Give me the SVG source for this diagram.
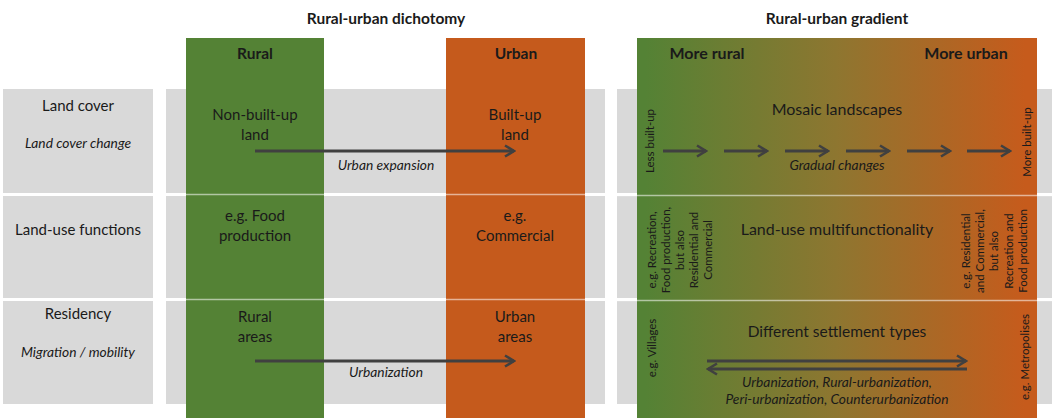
<svg xmlns="http://www.w3.org/2000/svg" width="1052" height="418" viewBox="0 0 1052 418">
<defs>
<linearGradient id="grad" x1="0" y1="0" x2="1" y2="0">
<stop offset="0.02" stop-color="#548235"/>
<stop offset="0.5" stop-color="#8E7630"/>
<stop offset="0.97" stop-color="#C65B1C"/>
</linearGradient>
<marker id="ah" markerUnits="userSpaceOnUse" markerWidth="14" markerHeight="14" viewBox="-12 -7 14 14" refX="0" refY="0" orient="auto">
<path d="M-9,-5.5 L0,0 L-9,5.5" fill="none" stroke="#404040" stroke-width="2.6"/>
</marker>
<style>
.row{fill:#D9D9D9}
.sep{stroke:#ffffff;stroke-opacity:0.55;stroke-width:1.6}
.t{font-family:Lato,"Liberation Sans",sans-serif;fill:#1a1a1a;text-anchor:middle}
.h{font-size:15.5px;font-weight:bold}
.lbl{font-size:15px}
.it{font-size:13.8px;font-style:italic}
.v{font-size:11.5px}
.arr{stroke:#404040;stroke-width:2.8;fill:none;marker-end:url(#ah)}
</style>
</defs>
<rect width="1052" height="418" fill="#ffffff"/>

<g id="row-labels">
<rect class="row" x="3" y="89" width="150" height="104"/>
<rect class="row" x="3" y="196" width="150" height="102"/>
<rect class="row" x="3" y="301" width="150" height="103"/>
<text class="t lbl" x="78" y="111">Land cover</text>
<text class="t it" x="78" y="148">Land cover change</text>
<text class="t lbl" x="78" y="235">Land-use functions</text>
<text class="t lbl" x="78" y="319">Residency</text>
<text class="t it" x="78" y="357">Migration / mobility</text>
</g>

<g id="dichotomy-panel">
<rect class="row" x="166" y="89" width="439" height="104"/>
<rect class="row" x="166" y="196" width="439" height="102"/>
<rect class="row" x="166" y="301" width="439" height="103"/>
<text class="t h" x="386" y="24">Rural-urban dichotomy</text>
</g>

<g id="rural-column">
<rect x="186" y="38" width="138" height="380" fill="#548235"/>
<text class="t h" x="255" y="59">Rural</text>
<text class="t lbl" x="255" y="120">Non-built-up</text>
<text class="t lbl" x="255" y="140">land</text>
<text class="t lbl" x="255" y="221">e.g. Food</text>
<text class="t lbl" x="255" y="241">production</text>
<text class="t lbl" x="255" y="322">Rural</text>
<text class="t lbl" x="255" y="342">areas</text>
</g>

<g id="urban-column">
<rect x="446" y="38" width="139" height="380" fill="#C55A1C"/>
<text class="t h" x="516" y="59">Urban</text>
<text class="t lbl" x="515" y="120">Built-up</text>
<text class="t lbl" x="515" y="140">land</text>
<text class="t lbl" x="515" y="221">e.g.</text>
<text class="t lbl" x="515" y="241">Commercial</text>
<text class="t lbl" x="515" y="322">Urban</text>
<text class="t lbl" x="515" y="342">areas</text>
</g>

<g id="gradient-panel">
<rect class="row" x="617" y="89" width="435" height="104"/>
<rect class="row" x="617" y="196" width="435" height="102"/>
<rect class="row" x="617" y="301" width="435" height="103"/>
<rect x="637" y="38" width="400" height="380" fill="url(#grad)"/>
<text class="t h" x="837" y="24">Rural-urban gradient</text>
<text class="t h" x="707" y="59" style="font-size:16px">More rural</text>
<text class="t h" x="966" y="59" style="font-size:16px">More urban</text>
</g>

<g id="separators">
<line class="sep" x1="166" y1="194.5" x2="605" y2="194.5"/>
<line class="sep" x1="166" y1="299.5" x2="605" y2="299.5"/>
<line class="sep" x1="617" y1="195.5" x2="1052" y2="195.5"/>
<line class="sep" x1="617" y1="300.5" x2="1052" y2="300.5"/>
</g>

<g id="land-cover-gradient">
<text class="t" x="837" y="115" style="font-size:16px">Mosaic landscapes</text>
<text class="t v" transform="translate(654,141) rotate(-90)">Less built-up</text>
<text class="t v" transform="translate(1031,142) rotate(-90)">More built-up</text>
<text class="t it" x="837" y="170">Gradual changes</text>
</g>

<g id="land-use-gradient">
<text class="t" x="837" y="235" style="font-size:16px">Land-use multifunctionality</text>
<text class="t v" transform="translate(656,250) rotate(-90)">e.g. Recreation,</text>
<text class="t v" transform="translate(670,250) rotate(-90)">Food production,</text>
<text class="t v" transform="translate(684,250) rotate(-90)">but also</text>
<text class="t v" transform="translate(698,250) rotate(-90)">Residential and</text>
<text class="t v" transform="translate(712,250) rotate(-90)">Commercial</text>
<text class="t v" transform="translate(970,251) rotate(-90)">e.g. Residential</text>
<text class="t v" transform="translate(984,251) rotate(-90)">and Commercial,</text>
<text class="t v" transform="translate(998,251) rotate(-90)">but also</text>
<text class="t v" transform="translate(1013,251) rotate(-90)">Recreation and</text>
<text class="t v" transform="translate(1027,251) rotate(-90)">Food production</text>
</g>

<g id="residency-gradient">
<text class="t" x="837" y="337" style="font-size:15.5px">Different settlement types</text>
<text class="t v" transform="translate(656,348) rotate(-90)">e.g. Villages</text>
<text class="t v" transform="translate(1029,357) rotate(-90)">e.g. Metropolises</text>
<text class="t it" x="837" y="387">Urbanization, Rural-urbanization,</text>
<text class="t it" x="837" y="404">Peri-urbanization, Counterurbanization</text>
</g>

<g id="connectors">
<line class="arr" x1="255" y1="151" x2="514" y2="151"/>
<line class="arr" x1="255" y1="361" x2="514" y2="361"/>
<line class="arr" x1="663" y1="151" x2="706" y2="151"/>
<line class="arr" x1="724" y1="151" x2="767" y2="151"/>
<line class="arr" x1="785" y1="151" x2="828" y2="151"/>
<line class="arr" x1="846" y1="151" x2="889" y2="151"/>
<line class="arr" x1="907" y1="151" x2="950" y2="151"/>
<line class="arr" x1="967" y1="151" x2="1010" y2="151"/>
<line class="arr" x1="707" y1="361" x2="966" y2="361"/>
<line class="arr" x1="967" y1="369" x2="708" y2="369"/>
</g>
<text class="t it" x="386" y="170">Urban expansion</text>
<text class="t it" x="386" y="377">Urbanization</text>
</svg>
